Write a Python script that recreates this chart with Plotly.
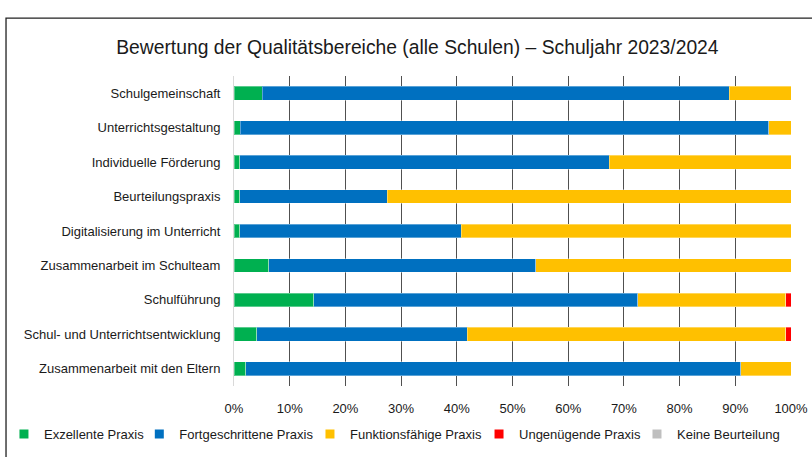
import plotly.graph_objects as go

categories = [
    "Schulgemeinschaft",
    "Unterrichtsgestaltung",
    "Individuelle Förderung",
    "Beurteilungspraxis",
    "Digitalisierung im Unterricht",
    "Zusammenarbeit im Schulteam",
    "Schulführung",
    "Schul- und Unterrichtsentwicklung",
    "Zusammenarbeit mit den Eltern",
]
exzellent = [5.1, 1.1, 1.0, 1.0, 1.0, 6.2, 14.3, 4.1, 2.1]
fortgeschritten = [83.8, 94.9, 66.4, 26.5, 39.8, 48.0, 58.2, 37.8, 88.9]
funktionsfaehig = [11.1, 4.0, 32.6, 72.5, 59.2, 45.8, 26.6, 57.2, 9.0]
ungenuegend = [0, 0, 0, 0, 0, 0, 0.9, 0.9, 0]
keine = [0, 0, 0, 0, 0, 0, 0, 0, 0]

series_names = ["Exzellente Praxis", "Fortgeschrittene Praxis", "Funktionsfähige Praxis",
                "Ungenügende Praxis", "Keine Beurteilung"]
series_values = [exzellent, fortgeschritten, funktionsfaehig, ungenuegend, keine]
series_colors = ["#00B050", "#0070C0", "#FFC000", "#FF0000", "#BFBFBF"]

tick_vals = [0, 10, 20, 30, 40, 50, 60, 70, 80, 90, 100]
tick_text = [f"{v}%" for v in tick_vals]
title_text = "Bewertung der Qualitätsbereiche (alle Schulen) – Schuljahr 2023/2024"

FONT = "Liberation Sans, Arial, sans-serif"

# legend positions (paper x) for each entry
legend_x = [-0.4130, -0.1700, 0.1364, 0.4399, 0.7235]
legend_ids = ["legend", "legend2", "legend3", "legend4", "legend5"]

fig = go.Figure()
for name, vals, col, lid in zip(series_names, series_values, series_colors, legend_ids):
    fig.add_trace(go.Bar(
        y=categories, x=vals, name=name, orientation="h",
        marker=dict(color=col, line=dict(color="rgba(255,255,255,0.35)", width=1)),
        legendgroup=name, showlegend=False,
    ))
    fig.add_trace(go.Scatter(
        x=[None], y=[None], mode="markers", name=name, legendgroup=name,
        marker=dict(symbol="square", size=9, color=col), legend=lid, showlegend=True,
    ))

legend_common = dict(orientation="h", xanchor="left", y=-0.155, yanchor="middle",
                     font=dict(family=FONT, size=13, color="#1a1a1a"), itemwidth=30,
                     borderwidth=0, bgcolor="rgba(0,0,0,0)")

fig.update_layout(
    width=812, height=457,
    barmode="stack", bargap=0.6,
    paper_bgcolor="white", plot_bgcolor="white",
    margin=dict(l=234, r=21, t=76, b=71, autoexpand=False),
    font=dict(family=FONT, size=13, color="#1a1a1a"),
    title=dict(text=title_text, x=0.514, xanchor="center", y=0.897, yanchor="middle",
               font=dict(family=FONT, size=19.3, color="#1a1a1a")),
    xaxis=dict(range=[0, 100], tickvals=tick_vals, ticktext=tick_text,
               showgrid=True, gridcolor="#505050", gridwidth=1, zeroline=False,
               showline=False, ticks="", ticklabelstandoff=13, fixedrange=True,
               automargin=False),
    yaxis=dict(categoryorder="array", categoryarray=categories, autorange="reversed",
               showline=True, linecolor="#D9D9D9", linewidth=1, showgrid=False,
               ticks="", ticklabelstandoff=10, automargin=False),
    showlegend=True,
)
layout_legends = {lid: dict(legend_common, x=lx) for lid, lx in zip(legend_ids, legend_x)}
fig.update_layout(**layout_legends)

fig.add_shape(type="rect", xref="paper", yref="paper",
              x0=-0.4093, x1=1.2, y0=-0.5, y1=1.187,
              line=dict(color="#222", width=1.3), fillcolor="rgba(0,0,0,0)", layer="below")

fig.write_html("out.html", config={"displayModeBar": False},
               post_script="document.body.style.margin='0';document.body.style.overflow='hidden';")
